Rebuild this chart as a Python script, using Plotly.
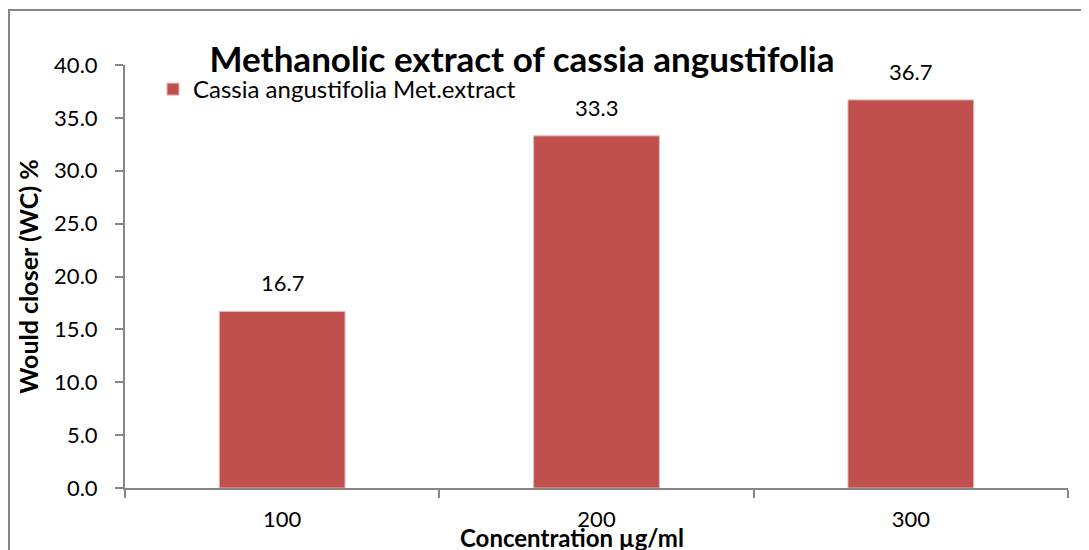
import plotly.graph_objects as go

categories = ["100", "200", "300"]
values = [16.7, 33.3, 36.7]
series_name = "Cassia angustifolia Met.extract"
title = "Methanolic extract of cassia angustifolia"
y_title = "Would closer (WC) %"
x_title = "Concentration µg/ml"
y_ticks = [0, 5, 10, 15, 20, 25, 30, 35, 40]

FONT = "Lato"
AX = "#868686"
BAR = "#C0504D"

# page body adds an 8px offset; work in screen pixels and subtract it
OFF = 8
PX0, PX1, PY0, PY1 = 125, 1068, 65, 488  # plot area on screen
L, T = PX0 - OFF, PY0 - OFF
PW, PH = PX1 - PX0, PY1 - PY0
R, B = 1089 - L - PW, 550 - T - PH


def px(x):
    return (x - PX0) / PW


def py(y):
    return (PY1 - y) / PH


fig = go.Figure()
fig.add_trace(go.Bar(
    x=categories, y=values, name=series_name,
    marker=dict(color=BAR, line=dict(color="#E6B9B8", width=1)),
    width=0.4, showlegend=True,
))
for i, v in enumerate(values):
    fig.add_annotation(x=i, y=v, xref="x", yref="y", text=f"{v:.1f}", showarrow=False,
                       xanchor="center", yanchor="bottom", yshift=13,
                       font=dict(family=FONT, size=22, color="black"))

fig.update_layout(
    width=1089, height=550,
    margin=dict(l=L, r=R, t=T, b=B, autoexpand=False),
    paper_bgcolor="white", plot_bgcolor="white",
    font=dict(family=FONT, color="black"),
    title=dict(text=f"<b>{title}</b>", x=(522 - OFF) / 1089, xanchor="center",
               y=1 - 52 / 550, yanchor="middle",
               font=dict(family=FONT, size=35, color="black")),
    showlegend=True,
    legend=dict(x=px(153), y=py(67), xanchor="left", yanchor="top",
                bgcolor="rgba(0,0,0,0)", font=dict(family=FONT, size=24),
                itemwidth=30),
    bargap=0.6,
)
fig.update_xaxes(
    type="category", categoryorder="array", categoryarray=categories,
    range=[-0.5, len(categories) - 0.5],
    showline=True, linecolor=AX, linewidth=2,
    ticks="outside", tickson="boundaries", ticklen=8, tickcolor=AX, tickwidth=2,
    tickfont=dict(family=FONT, size=22, color="black"), ticklabelstandoff=11,
    showgrid=False, automargin=False,
)
fig.update_yaxes(
    range=[0, 40], tickvals=y_ticks, tickformat=".1f",
    showline=True, linecolor=AX, linewidth=2,
    ticks="outside", ticklen=8, tickcolor=AX, tickwidth=2,
    tickfont=dict(family=FONT, size=22, color="black"), ticklabelstandoff=13,
    title=dict(text=f"<b>{y_title}</b>", font=dict(family=FONT, size=25, color="black"), standoff=8),
    showgrid=False, zeroline=False, automargin=False,
)
fig.add_annotation(text=f"<b>{x_title}</b>", xref="paper", yref="paper",
                   x=px(572), y=py(537), xanchor="center", yanchor="middle",
                   showarrow=False, font=dict(family=FONT, size=24, color="black"))
fig.add_shape(type="rect", xref="paper", yref="paper",
              x0=px(9), x1=1.2, y0=-0.5, y1=py(10),
              line=dict(color=AX, width=2), fillcolor="rgba(0,0,0,0)", layer="below")
fig.write_html("out.html")
